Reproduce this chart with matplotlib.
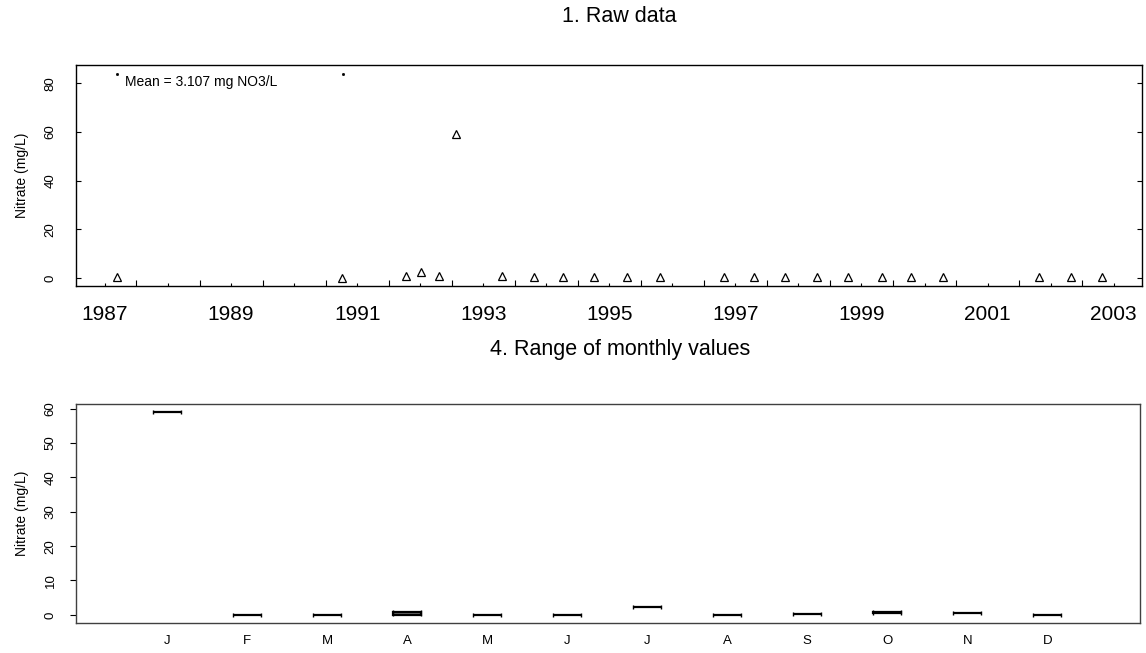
import matplotlib
matplotlib.use("Agg")
import matplotlib.pyplot as plt
from matplotlib.ticker import FixedLocator, FixedFormatter
import numpy as np

plt.rcParams['font.family'] = ['Liberation Sans', 'DejaVu Sans']

# raw samples: decimal year and nitrate (mg/L)
sample_year = [1987.685, 1991.264, 1992.272, 1992.519, 1992.793, 1993.068,
               1993.800, 1994.300, 1994.770, 1995.260, 1995.780, 1996.300,
               1997.320, 1997.800, 1998.290, 1998.800, 1999.290, 1999.830,
               2000.280, 2000.800, 2002.320, 2002.820, 2003.320]
nitrate = [0.3, 0.1, 0.9, 2.2, 0.9, 59.0,
           0.8, 0.5, 0.5, 0.4, 0.4, 0.4,
           0.4, 0.4, 0.4, 0.4, 0.4, 0.5,
           0.4, 0.4, 0.4, 0.4, 0.4]
# upper marks drawn at the top of the raw panel
top_mark_year = [1987.685, 1991.275]
top_mark_val = [84.0, 84.0]
mean_label = "Mean = 3.107 mg NO3/L"

# monthly range (min / max)
months = ['J', 'F', 'M', 'A', 'M', 'J', 'J', 'A', 'S', 'O', 'N', 'D']
month_lo = [59.0, 0.0, 0.0, 0.1, 0.0, 0.0, 2.3, 0.0, 0.2, 0.5, 0.5, 0.0]
month_hi = [59.0, 0.0, 0.0, 0.9, 0.0, 0.0, 2.3, 0.0, 0.2, 0.9, 0.5, 0.0]

label_years = list(range(1987, 2004, 2))

fig = plt.figure(figsize=(11.46, 6.53), dpi=100)

# ---- 1. raw data
ax1 = fig.add_axes([0.0663, 0.562, 0.9302, 0.3385])
ax1.plot(sample_year, nitrate, linestyle='none', marker='^', markersize=5.5,
         markerfacecolor='none', markeredgecolor='black', markeredgewidth=0.9)
ax1.plot(top_mark_year, top_mark_val, linestyle='none', marker='s',
         markersize=1.0, color='black')
ax1.set_xlim(1987.04, 2003.95)
ax1.set_ylim(-3.37, 87.6)

half_years = np.arange(1987.5, 2004.0, 1.0)
ax1.xaxis.set_major_locator(FixedLocator(np.arange(1988, 2004)))
ax1.xaxis.set_major_formatter(FixedFormatter([''] * 16))
ax1.xaxis.set_minor_locator(FixedLocator(half_years))
ax1.xaxis.set_minor_formatter(FixedFormatter(
    [str(int(h)) if int(h) in label_years else '' for h in half_years]))
ax1.tick_params(axis='x', which='major', direction='in', length=4.5, width=0.8)
ax1.tick_params(axis='x', which='minor', direction='in', length=2.0, width=0.8,
                labelsize=15, pad=14)
ax1.set_yticks([0, 20, 40, 60, 80])
ax1.tick_params(axis='y', direction='in', length=3.5, width=0.8, right=True,
                labelsize=9.5, pad=14)
for lab in ax1.get_yticklabels():
    lab.set_rotation(90)
    lab.set_va('center')
ax1.set_ylabel('Nitrate (mg/L)', fontsize=10, labelpad=11)
for sp in ax1.spines.values():
    sp.set_linewidth(1.0)
ax1.text(0.046, 0.925, mean_label, transform=ax1.transAxes, fontsize=10,
         ha='left', va='center')

fig.text(0.540, 1 - 17 / 653, '1. Raw data', fontsize=15.5, ha='center', va='center')

# ---- 4. range of monthly values
ax2 = fig.add_axes([0.0663, 0.046, 0.9285, 0.3353])
pos = np.arange(1, 13)
lo = np.array(month_lo)
hi = np.array(month_hi)
w = 0.345
ax2.bar(pos, hi - lo, bottom=lo, width=w, color='0.45', edgecolor='black',
        linewidth=1.6)
ax2.vlines(np.concatenate([pos - w / 2, pos + w / 2]),
           np.concatenate([lo, lo]) - 0.55, np.concatenate([hi, hi]) + 0.55,
           color='black', linewidth=1.0)
ax2.set_xlim(-0.14, 13.16)
ax2.set_ylim(-2.36, 61.36)
ax2.set_xticks(pos)
ax2.set_xticklabels(months)
ax2.tick_params(axis='x', length=0, labelsize=9.5, pad=9)
ax2.set_yticks(np.arange(0, 61, 10))
ax2.tick_params(axis='y', direction='out', length=4, width=0.8, labelsize=9.5, pad=10)
for lab in ax2.get_yticklabels():
    lab.set_rotation(90)
    lab.set_va('center')
ax2.set_ylabel('Nitrate (mg/L)', fontsize=10, labelpad=11)
for sp in ax2.spines.values():
    sp.set_linewidth(1.0)
    sp.set_color('0.25')

fig.text(0.541, 1 - 350 / 653, '4. Range of monthly values', fontsize=15.5,
         ha='center', va='center')

fig.savefig('out.png', dpi=100)
